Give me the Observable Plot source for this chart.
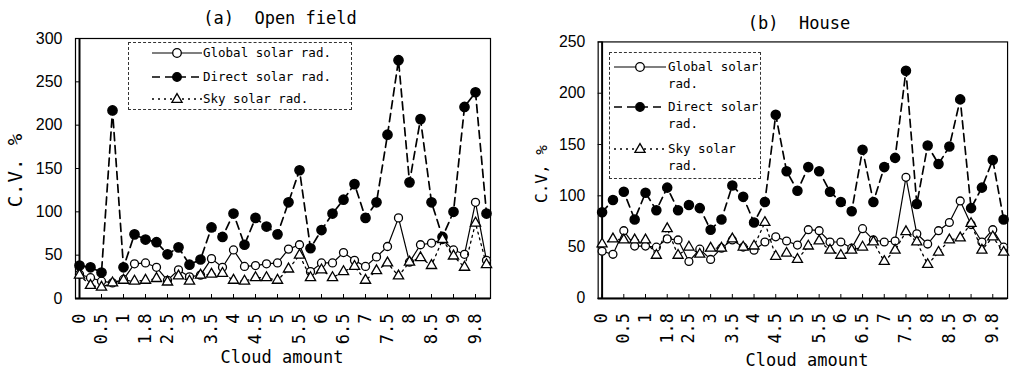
<!DOCTYPE html>
<html><head><meta charset="utf-8">
<script src="https://cdn.jsdelivr.net/npm/d3@7"></script>
<script src="https://cdn.jsdelivr.net/npm/@observablehq/plot@0.6"></script>
<style>
html,body{margin:0;padding:0;background:#fff;}
body{width:1013px;height:370px;overflow:hidden;position:relative;font-family:"DejaVu Sans Mono",monospace;color:#000;}
.panel{position:absolute;top:0;}
.lbl{position:absolute;white-space:nowrap;transform:translate(-50%,-50%);line-height:1;}
.ylbl{position:absolute;white-space:nowrap;transform:translate(-50%,-50%) rotate(-90deg);line-height:1;}
.leg{position:absolute;border:1px dashed #333;background:#fff;box-sizing:border-box;}
.legsvg{position:absolute;left:0;top:0;}
.legtxt{position:absolute;white-space:nowrap;font-size:12.5px;line-height:17px;}
</style></head><body>
<div id="pa" class="panel" style="left:0"></div>
<div id="pb" class="panel" style="left:500px"></div>
<div class="lbl" style="left:280px;top:18px;font-size:17px">(a)&nbsp;&nbsp;Open field</div>
<div class="lbl" style="left:799px;top:23px;font-size:17px">(b)&nbsp;&nbsp;House</div>
<div class="lbl" style="left:282px;top:357px;font-size:17px">Cloud amount</div>
<div class="lbl" style="left:807px;top:360px;font-size:17px">Cloud amount</div>
<div class="ylbl" style="left:15px;top:170px;font-size:19px;letter-spacing:1px">C.V. %</div>
<div class="ylbl" style="left:542px;top:174px;font-size:16px">C.V, %</div>
<script>
// categories (every other one is labelled on the axis)
const cloudAmount = ["0","0.3","0.5","0.8","1","1.3","1.8","2","2.5","2.8","3","3.3","3.5","3.8","4","4.3","4.5","4.8","5","5.3","5.5","5.8","6","6.3","6.5","6.8","7","7.3","7.5","7.8","8","8.3","8.5","8.8","9","9.5","9.8","10"];
const tickLabels = ["0","0.5","1","1.8","2.5","3","3.5","4","4.5","5","5.5","6","6.5","7","7.5","8","8.5","9","9.8"];
const seriesNames = ["Global solar rad.","Direct solar rad.","Sky solar rad."];

// (a) Open field, C.V. %
const openGlobal = [28,24,20,18,22,40,41,36,21,33,25,27,46,36,56,37,38,40,41,57,62,31,41,41,53,44,37,48,60,93,42,62,64,68,56,51,111,44];
const openDirect = [38,36,30,217,36,74,68,65,51,59,39,45,82,71,98,62,93,83,74,111,148,58,79,98,114,132,93,111,189,275,134,207,111,71,100,221,238,98];
const openSky    = [27,15,13,18,21,20,21,23,19,26,20,27,28,29,21,20,24,24,21,34,50,24,33,24,31,37,21,32,41,26,42,47,38,68,49,36,87,39];

// (b) House, C.V. %
const houseGlobal = [46,43,66,51,51,50,58,57,36,48,38,49,57,50,47,55,60,56,52,67,66,55,55,49,68,57,55,56,118,63,53,66,74,95,72,55,67,50];
const houseDirect = [84,96,104,77,103,86,108,86,91,88,67,77,110,99,74,94,179,124,105,128,124,104,94,85,145,94,128,137,222,92,149,131,148,194,88,108,135,77];
const houseSky    = [53,58,57,57,57,42,68,42,50,43,49,49,58,50,51,74,41,44,38,51,56,47,42,47,50,55,36,47,65,55,33,45,57,59,73,47,60,45];

const rows = vals => vals.map((v, i) => ({cat: cloudAmount[i], value: v}));

function makePanel({global, direct, sky, yMax, width, marginLeft, marginRight, marginTop, marginBottom}) {
  const g = rows(global), d = rows(direct), s = rows(sky);
  return Plot.plot({
    width, height: 370, marginLeft, marginRight, marginTop, marginBottom,
    style: {fontFamily: "DejaVu Sans Mono, monospace", fontSize: "17px", color: "#000", background: "transparent", overflow: "visible"},
    x: {type: "point", domain: cloudAmount, padding: 0},
    y: {domain: [0, yMax]},
    marks: [
      Plot.frame({stroke: "#000", strokeWidth: 1.2}),
      Plot.ruleY([0], {stroke: "#000", strokeWidth: 2}),
      Plot.ruleX([cloudAmount[0]], {stroke: "#000", strokeWidth: 2}),
      Plot.axisY({ticks: d3.range(0, yMax + 1, 50), tickSize: -4, tickPadding: 17, tickFormat: d => d, fontFamily: "Liberation Sans, Arial, sans-serif", fontSize: 16, label: null}),
      Plot.axisX({ticks: tickLabels, tickRotate: -90, tickSize: -4, tickPadding: 19, fontSize: 17, label: null}),
      Plot.line(g, {x: "cat", y: "value", stroke: "#000", strokeWidth: 1.2}),
      Plot.dot(g, {x: "cat", y: "value", r: 4, fill: "#fff", stroke: "#000", strokeWidth: 1.3}),
      Plot.line(d, {x: "cat", y: "value", stroke: "#000", strokeWidth: 1.7, strokeDasharray: "8,5"}),
      Plot.dot(d, {x: "cat", y: "value", r: 4.6, fill: "#000", stroke: "#000"}),
      Plot.line(s, {x: "cat", y: "value", stroke: "#000", strokeWidth: 1.3, strokeDasharray: "2,4"}),
      Plot.dot(s, {x: "cat", y: "value", symbol: "triangle", r: 3.8, fill: "#fff", stroke: "#000", strokeWidth: 1.3})
    ]
  });
}

document.getElementById("pa").append(makePanel({global: openGlobal, direct: openDirect, sky: openSky, yMax: 300, width: 500, marginLeft: 75, marginRight: 10, marginTop: 38, marginBottom: 72}));
document.getElementById("pb").append(makePanel({global: houseGlobal, direct: houseDirect, sky: houseSky, yMax: 250, width: 520, marginLeft: 99, marginRight: 6, marginTop: 42, marginBottom: 68}));

// legends (HTML box, small SVG samples, HTML text)
const styles = [
  {dash: null, sw: 1.2, marker: "circle", fill: "#fff"},
  {dash: "8,5", sw: 1.7, marker: "circle", fill: "#000"},
  {dash: "2,4", sw: 1.3, marker: "triangle", fill: "#fff"}
];
function legend({left, top, w, h, rows, x0, x1, xm, xt}) {
  const box = d3.create("div").attr("class", "leg")
    .style("left", left + "px").style("top", top + "px").style("width", w + "px").style("height", h + "px");
  const svg = box.append("svg").attr("class", "legsvg").attr("width", w).attr("height", h);
  rows.forEach((r, i) => {
    const st = styles[i];
    svg.append("line").attr("x1", x0).attr("x2", x1).attr("y1", r.y).attr("y2", r.y)
      .attr("stroke", "#000").attr("stroke-width", st.sw).attr("stroke-dasharray", st.dash);
    if (st.marker === "circle") {
      svg.append("circle").attr("cx", xm).attr("cy", r.y).attr("r", 4.3).attr("fill", st.fill).attr("stroke", "#000").attr("stroke-width", 1.3);
    } else {
      svg.append("path").attr("d", d3.symbol(d3.symbolTriangle, 45)()).attr("transform", `translate(${xm},${r.y + 0.5})`)
        .attr("fill", "#fff").attr("stroke", "#000").attr("stroke-width", 1.3);
    }
    box.append("div").attr("class", "legtxt")
      .style("left", xt + "px").style("top", (r.y - 9) + "px")
      .html(r.lines.join("<br>"));
  });
  document.body.append(box.node());
}
legend({left: 128, top: 42, w: 224, h: 68, x0: 23, x1: 73, xm: 48, xt: 74,
  rows: [{y: 10, lines: [seriesNames[0]]}, {y: 34, lines: [seriesNames[1]]}, {y: 56, lines: [seriesNames[2]]}]});
legend({left: 609, top: 52, w: 152, h: 127, x0: 4, x1: 56, xm: 30, xt: 58,
  rows: [{y: 14, lines: ["Global solar", "rad."]}, {y: 54, lines: ["Direct solar", "rad."]}, {y: 96, lines: ["Sky solar", "rad."]}]});
</script>
</body></html>
